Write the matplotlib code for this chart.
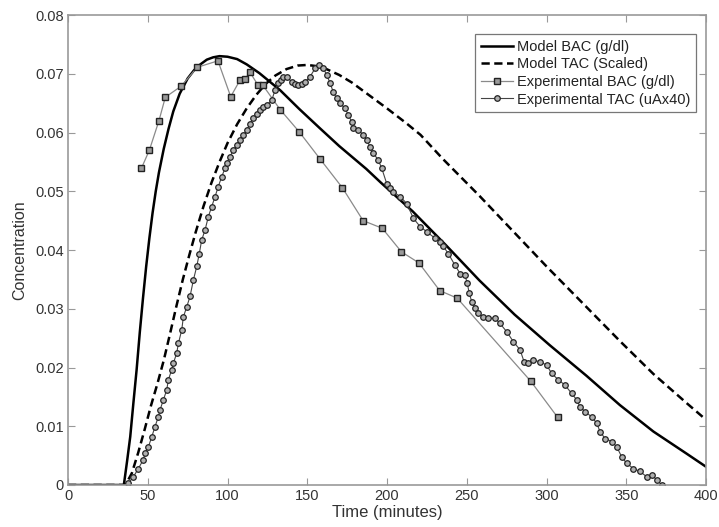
import matplotlib
matplotlib.use("Agg")
import matplotlib.pyplot as plt

plt.rcParams['font.family'] = ['Liberation Sans', 'DejaVu Sans']

# Model BAC (g/dl) - solid curve
model_bac_t = [0, 35, 37, 39, 41, 43, 45, 47, 49, 51, 53, 55, 57, 60, 63, 66, 70, 75,
               79, 83, 87, 91, 95, 100, 106, 112, 120, 133, 145, 158, 170, 187, 196,
               216, 237, 258, 280, 302, 325, 346, 367, 388, 400]
model_bac_c = [0, 0, 0.0040, 0.0082, 0.0140, 0.0196, 0.0260, 0.0318, 0.0372, 0.0420,
               0.0463, 0.0500, 0.0532, 0.0572, 0.0606, 0.0636, 0.0666, 0.0692, 0.0706,
               0.0716, 0.0724, 0.0728, 0.0730, 0.0729, 0.0725, 0.0716, 0.0701, 0.0672,
               0.0640, 0.0607, 0.0577, 0.0538, 0.0515, 0.0466, 0.0408, 0.0348, 0.0290,
               0.0238, 0.0186, 0.0136, 0.0091, 0.0053, 0.0031]

# Model TAC (scaled) - dashed curve
model_tac_t = [0, 36, 40, 44, 48, 52, 56, 60, 64, 68, 72, 76, 80, 85, 90, 95, 100, 106,
               112, 118, 124, 130, 137, 144, 150, 156, 162, 170, 178, 187, 200, 212,
               221, 235, 258, 279, 300, 325, 346, 367, 388, 400]
model_tac_c = [0, 0, 0.0020, 0.0055, 0.0094, 0.0135, 0.0172, 0.0212, 0.0258, 0.0305,
               0.0350, 0.0391, 0.0430, 0.0475, 0.0515, 0.0550, 0.0582, 0.0614, 0.0641,
               0.0664, 0.0683, 0.0697, 0.0708, 0.0714, 0.0715, 0.0713, 0.0708, 0.0698,
               0.0685, 0.0667, 0.0641, 0.0616, 0.0596, 0.0555, 0.0492, 0.0432, 0.0372,
               0.0303, 0.0245, 0.0189, 0.0139, 0.0111]

# Experimental BAC (g/dl) - squares
exp_bac_t = [46, 51, 57, 61, 71, 81, 94, 102, 108, 111, 114, 119, 122, 133, 145, 158,
             172, 185, 197, 209, 220, 233, 244, 290, 307]
exp_bac_c = [0.0539, 0.0570, 0.0620, 0.0660, 0.0679, 0.0711, 0.0722, 0.0661, 0.0690,
             0.0691, 0.0703, 0.0681, 0.0681, 0.0639, 0.0601, 0.0555, 0.0506, 0.0450,
             0.0437, 0.0397, 0.0378, 0.0331, 0.0318, 0.0177, 0.0115]

# Experimental TAC (uAx40) - circles
exp_tac_t = [37.8, 41.0, 44.1, 47.2, 48.3, 50.4, 52.5, 54.5, 56.6, 57.7, 59.8, 61.9,
             62.9, 65.0, 66.0, 68.1, 69.2, 71.3, 72.3, 74.4, 76.5, 78.6, 80.7, 82.3,
             83.8, 85.9, 88.0, 90.1, 92.2, 94.2, 96.4, 98.4, 99.5, 101.6, 103.6, 105.7,
             107.8, 110.0, 112.0, 114.0, 116.2, 118.3, 120.4, 122.5, 124.6, 127.7, 129.8,
             131.8, 133.5, 135.0, 137.1, 140.3, 142.4, 144.4, 146.5, 148.6, 151.7, 154.9,
             157.6, 160.1, 162.2, 164.3, 166.3, 168.4, 170.5, 173.7, 175.7, 177.9, 178.9,
             182.0, 185.2, 187.3, 189.3, 191.4, 194.5, 196.7, 199.8, 202.0, 204.0, 208.2,
             212.4, 216.5, 220.7, 224.9, 230.1, 233.3, 235.3, 238.4, 242.6, 245.8, 248.9,
             250.3, 251.6, 253.1, 255.2, 257.3, 260.4, 263.5, 267.7, 270.8, 275.0, 279.2,
             283.4, 285.9, 288.6, 291.7, 295.9, 300.1, 303.2, 307.4, 311.6, 315.7, 318.9,
             321.0, 324.1, 328.3, 331.5, 333.5, 336.7, 340.9, 344.0, 347.1, 350.2, 354.4,
             358.6, 362.8, 365.9, 369.1, 372.2]
exp_tac_c = [0.0003, 0.0014, 0.0028, 0.0043, 0.0054, 0.0065, 0.0082, 0.0099, 0.0116,
             0.0128, 0.0145, 0.0162, 0.0179, 0.0196, 0.0207, 0.0224, 0.0241, 0.0264,
             0.0286, 0.0303, 0.0321, 0.0349, 0.0372, 0.0394, 0.0417, 0.0434, 0.0457,
             0.0474, 0.0491, 0.0508, 0.0525, 0.0539, 0.0548, 0.0559, 0.0570, 0.0578,
             0.0587, 0.0596, 0.0604, 0.0614, 0.0624, 0.0631, 0.0638, 0.0643, 0.0647,
             0.0655, 0.0672, 0.0684, 0.0690, 0.0695, 0.0695, 0.0686, 0.0683, 0.0681,
             0.0683, 0.0686, 0.0695, 0.0709, 0.0715, 0.0709, 0.0698, 0.0684, 0.0669,
             0.0658, 0.0650, 0.0641, 0.0630, 0.0618, 0.0607, 0.0604, 0.0596, 0.0587,
             0.0576, 0.0565, 0.0553, 0.0539, 0.0513, 0.0505, 0.0499, 0.0491, 0.0479,
             0.0454, 0.0440, 0.0431, 0.0420, 0.0414, 0.0406, 0.0394, 0.0374, 0.0360,
             0.0357, 0.0343, 0.0326, 0.0312, 0.0301, 0.0292, 0.0286, 0.0284, 0.0284,
             0.0275, 0.0261, 0.0244, 0.0230, 0.0210, 0.0208, 0.0212, 0.0210, 0.0204,
             0.0190, 0.0179, 0.0170, 0.0156, 0.0145, 0.0133, 0.0125, 0.0116, 0.0105,
             0.0091, 0.0079, 0.0074, 0.0065, 0.0048, 0.0037, 0.0028, 0.0023, 0.0014,
             0.0017, 0.0009, 0.0]

x_ticks = [0, 50, 100, 150, 200, 250, 300, 350, 400]
y_ticks = [0, 0.01, 0.02, 0.03, 0.04, 0.05, 0.06, 0.07, 0.08]
y_tick_labels = ['0', '0.01', '0.02', '0.03', '0.04', '0.05', '0.06', '0.07', '0.08']

fig = plt.figure(figsize=(7.19, 5.27), dpi=100)
ax = fig.add_axes([0.0946, 0.0797, 0.8874, 0.8918])

ax.plot(model_bac_t, model_bac_c, color='black', lw=1.8, label='Model BAC (g/dl)')
ax.plot(model_tac_t, model_tac_c, color='black', lw=1.8, dashes=(3.3, 1.8),
        label='Model TAC (Scaled)')
ax.plot(exp_bac_t, exp_bac_c, color='#8a8a8a', lw=0.9, marker='s', ms=5,
        mfc='#9a9a9a', mec='#222222', mew=1.0, label='Experimental BAC (g/dl)')
ax.plot(exp_tac_t, exp_tac_c, color='#444444', lw=0.8, marker='o', ms=4,
        mfc='#b0b0b0', mec='#222222', mew=0.9, label='Experimental TAC (uAx40)')

ax.set_xlim(0, 400)
ax.set_ylim(0, 0.08)
ax.set_xticks(x_ticks)
ax.set_yticks(y_ticks)
ax.set_yticklabels(y_tick_labels)
ax.tick_params(direction='in', top=True, right=True, length=5, width=0.8,
               colors='#999999', labelcolor='#333333', labelsize=10.5, pad=3)
for s in ax.spines.values():
    s.set_color('#9a9a9a')
    s.set_linewidth(1.2)

ax.set_xlabel('Time (minutes)', fontsize=12, color='#333333', labelpad=1)
ax.set_ylabel('Concentration', fontsize=11.5, color='#333333', labelpad=6)

leg = ax.legend(loc='upper right', bbox_to_anchor=(0.985, 0.96), fontsize=10.5,
                frameon=True, fancybox=False, handlelength=2.2, handletextpad=0.3,
                labelspacing=0.25, borderpad=0.4, borderaxespad=0)
leg.get_frame().set_edgecolor('#555555')
leg.get_frame().set_linewidth(0.9)
for t in leg.get_texts():
    t.set_color('#222222')

fig.savefig('out.png', dpi=100)
